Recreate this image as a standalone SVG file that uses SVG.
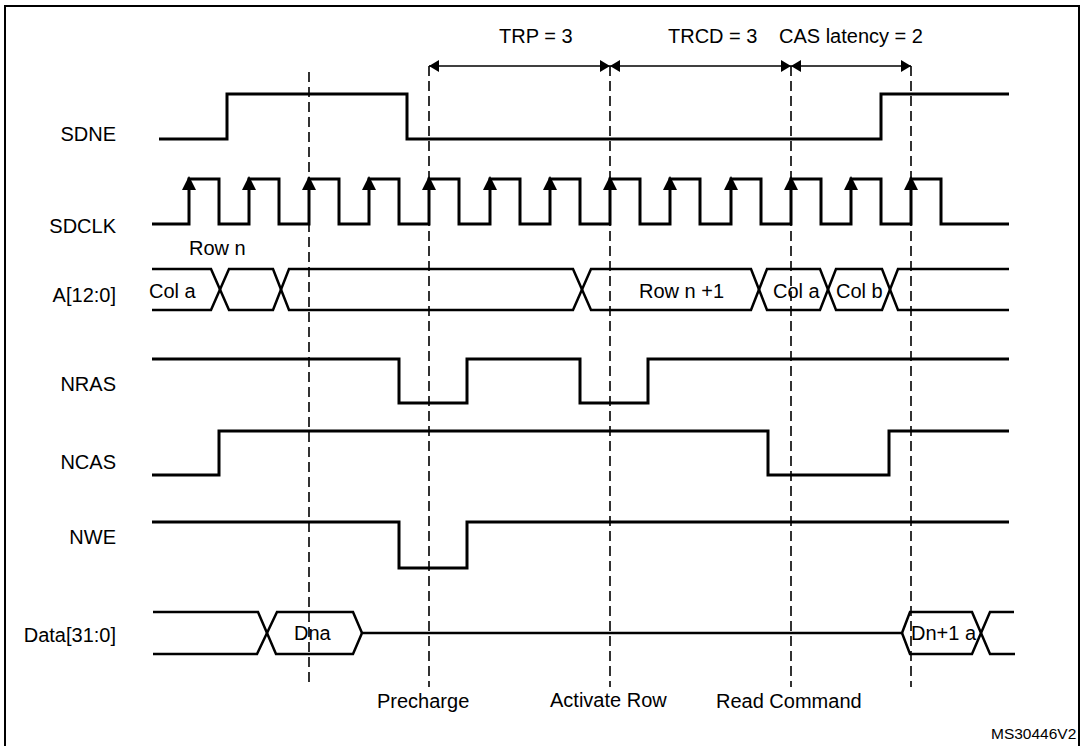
<svg xmlns="http://www.w3.org/2000/svg" width="1085" height="746" viewBox="0 0 1085 746">
<style>
text{font-family:"Liberation Sans",Arial,sans-serif;font-size:20px;fill:#000}
.lbl{text-anchor:end}
.sig{fill:none;stroke:#000;stroke-width:3;stroke-linejoin:miter}
.bus{fill:none;stroke:#000;stroke-width:2.5;stroke-linejoin:miter}
.dash{stroke:#000;stroke-width:1.6;stroke-dasharray:10 5;fill:none}
.dim{stroke:#000;stroke-width:1.5;fill:none}
</style>
<defs>
<marker id="ah" viewBox="0 0 10 12" refX="10" refY="6" markerWidth="10" markerHeight="12" markerUnits="userSpaceOnUse" orient="auto-start-reverse">
<path d="M0,0 L10,6 L0,12 Z" fill="#000"/>
</marker>
<path id="clkarrow" d="M0,-1 L-7,13 L7,13 Z" fill="#000"/>
</defs>
<rect x="0" y="0" width="1085" height="746" fill="#fff"/>
<rect x="5" y="6" width="1074" height="745" fill="none" stroke="#000" stroke-width="2"/>

<g id="timing-labels">
<text x="499" y="43">TRP = 3</text>
<text x="668" y="43">TRCD = 3</text>
<text x="779" y="43">CAS latency = 2</text>
</g>

<g id="connectors">
<line class="dash" x1="309" y1="72" x2="309" y2="687"/>
<line class="dash" x1="429" y1="66" x2="429" y2="687"/>
<line class="dash" x1="610" y1="66" x2="610" y2="687"/>
<line class="dash" x1="791" y1="66" x2="791" y2="687"/>
<line class="dash" x1="911" y1="66" x2="911" y2="687"/>
<line class="dim" x1="429" y1="66" x2="610" y2="66" marker-start="url(#ah)" marker-end="url(#ah)"/>
<line class="dim" x1="610" y1="66" x2="791" y2="66" marker-start="url(#ah)" marker-end="url(#ah)"/>
<line class="dim" x1="791" y1="66" x2="911" y2="66" marker-start="url(#ah)" marker-end="url(#ah)"/>
</g>

<g id="SDNE">
<text class="lbl" x="116" y="141">SDNE</text>
<polyline class="sig" points="159,139 227,139 227,94 407,94 407,139 881,139 881,94 1009,94"/>
</g>

<g id="SDCLK">
<text class="lbl" x="116" y="233">SDCLK</text>
<polyline class="sig" points="152,224 189,224 189,179 219,179 219,224 249,224 249,179 279,179 279,224 309,224 309,179 339,179 339,224 369,224 369,179 399,179 399,224 429,224 429,179 459,179 459,224 490,224 490,179 520,179 520,224 550,224 550,179 580,179 580,224 610,224 610,179 640,179 640,224 670,224 670,179 700,179 700,224 731,224 731,179 761,179 761,224 791,224 791,179 821,179 821,224 851,224 851,179 881,179 881,224 911,224 911,179 941,179 941,224 1009,224"/>
<use href="#clkarrow" x="189" y="177"/>
<use href="#clkarrow" x="249" y="177"/>
<use href="#clkarrow" x="309" y="177"/>
<use href="#clkarrow" x="369" y="177"/>
<use href="#clkarrow" x="429" y="177"/>
<use href="#clkarrow" x="490" y="177"/>
<use href="#clkarrow" x="550" y="177"/>
<use href="#clkarrow" x="610" y="177"/>
<use href="#clkarrow" x="670" y="177"/>
<use href="#clkarrow" x="731" y="177"/>
<use href="#clkarrow" x="791" y="177"/>
<use href="#clkarrow" x="851" y="177"/>
<use href="#clkarrow" x="911" y="177"/>
</g>

<g id="A">
<text class="lbl" x="116" y="302">A[12:0]</text>
<text x="189" y="255">Row n</text>
<text x="149" y="298">Col a</text>
<text x="639" y="298">Row n +1</text>
<text x="773" y="298">Col a</text>
<text x="836" y="298">Col b</text>
<polyline class="bus" points="152,269 211,269 229,310 273,310 289,269 573,269 591,310 751,310 767,269 820,269 836,310 882,310 898,269 1009,269"/>
<polyline class="bus" points="152,310 211,310 229,269 273,269 289,310 573,310 591,269 751,269 767,310 820,310 836,269 882,269 898,310 1009,310"/>
</g>

<g id="NRAS">
<text class="lbl" x="116" y="391">NRAS</text>
<polyline class="sig" points="152,359 399,359 399,403 467,403 467,359 580,359 580,403 648,403 648,359 1009,359"/>
</g>

<g id="NCAS">
<text class="lbl" x="116" y="469">NCAS</text>
<polyline class="sig" points="152,475 219,475 219,431 768,431 768,475 889,475 889,431 1009,431"/>
</g>

<g id="NWE">
<text class="lbl" x="116" y="544">NWE</text>
<polyline class="sig" points="152,522 399,522 399,568 467,568 467,522 1009,522"/>
</g>

<g id="Data">
<text class="lbl" x="116" y="642">Data[31:0]</text>
<text x="294" y="640">Dna</text>
<text x="911" y="640">Dn+1 a</text>
<polyline class="bus" points="153,612 258,612 276,654 353,654 362,633 902,633 910,612 972,612 990,654 1015,654"/>
<polyline class="bus" points="153,654 257,654 277,612 353,612 362,633"/>
<polyline class="bus" points="902,633 910,654 972,654 990,612 1014,612"/>
</g>

<g id="events">
<text x="377" y="708">Precharge</text>
<text x="550" y="707">Activate Row</text>
<text x="716" y="708">Read Command</text>
<text x="991" y="739" style="font-size:15.5px">MS30446V2</text>
</g>
</svg>
